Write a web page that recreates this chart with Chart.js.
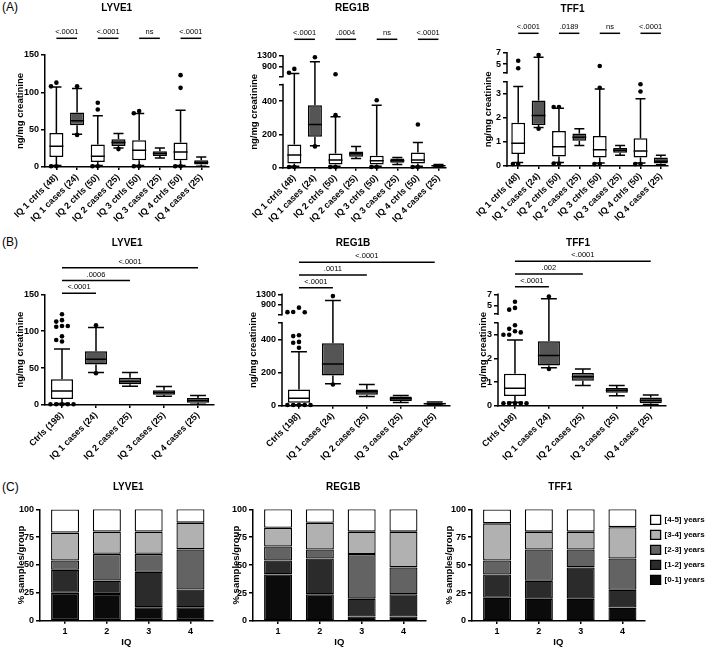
<!DOCTYPE html>
<html>
<head>
<meta charset="utf-8">
<title>LYVE1 / REG1B / TFF1</title>
<script src="https://cdn.jsdelivr.net/npm/chart.js@4.4.1/dist/chart.umd.min.js"></script>
<style>
  html, body { margin: 0; padding: 0; background: #fff; }
  #fig { position: relative; width: 709px; height: 650px; overflow: hidden; font-family: "Liberation Sans", Arial, sans-serif; }
  #fig canvas { position: absolute; }
  .tag { position: absolute; left: 2px; font-size: 12px; line-height: 14px; color: #000; }
</style>
</head>
<body>
<div id="fig">
  <div class="tag" style="top:0px">(A)</div>
  <div class="tag" style="top:235px">(B)</div>
  <div class="tag" style="top:480px">(C)</div>
</div>
<script>
// ---------- data ----------
const groupsA = ['IQ 1 ctrls (48)', 'IQ 1 cases (24)', 'IQ 2 ctrls (50)', 'IQ 2 cases (25)',
                 'IQ 3 ctrls (50)', 'IQ 3 cases (25)', 'IQ 4 ctrls (50)', 'IQ 4 cases (25)'];
const groupsB = ['Ctrls (198)', 'IQ 1 cases (24)', 'IQ 2 cases (25)', 'IQ 3 cases (25)', 'IQ 4 cases (25)'];
const iqGroups = ['1', '2', '3', '4'];
const yearBands = ['[0-1] years', '[1-2] years', '[2-3] years', '[3-4] years', '[4-5] years'];

const lyveTicks = [0, 50, 100, 150];
const regTicks = [0, 200, 400, 900, 1300];
const tffTicks = [0, 1, 2, 3, 5, 7];
const pctTicks = [0, 25, 50, 75, 100];

// (A) by IQ, ctrls vs cases
const lyveA_lo  = [2, 44, 2, 25.5, 2, 12, 2, 1];
const lyveA_q1  = [13.4, 56, 6.7, 28.2, 9, 14.8, 9, 3.2];
const lyveA_med = [27.8, 61.8, 14.4, 32.7, 22.4, 18, 20.2, 5.9];
const lyveA_q3  = [45.6, 73, 30, 37, 35.8, 21, 32.7, 9];
const lyveA_hi  = [107, 105, 68.5, 44.8, 71.6, 25.5, 76, 13.4];
const lyveA_out = [[113, 108, 1, 1], [108, 43], [86, 77, 1, 1], [24], [75, 72, 1, 1], [], [123, 106, 1, 1], []];

const regA_lo  = [8, 132, 8, 56, 8, 20, 8, 4];
const regA_q1  = [26, 186, 20, 66, 20, 30, 26, 8];
const regA_med = [76, 260, 46, 84, 42, 42, 46, 12];
const regA_q3  = [140, 376, 86, 98, 72, 56, 92, 16];
const regA_hi  = [620, 1080, 306, 128, 376, 62, 152, 20];
const regA_out = [[800, 650, 4, 4], [1250, 128], [593, 316, 4, 4], [], [406, 4, 4], [], [260, 4, 4], []];

const tffA_lo  = [0.15, 1.6, 0.15, 0.85, 0.12, 0.45, 0.12, 0.05];
const tffA_q1  = [0.5, 1.7, 0.4, 1.05, 0.35, 0.55, 0.35, 0.1];
const tffA_med = [0.95, 2.1, 0.8, 1.2, 0.68, 0.65, 0.62, 0.2];
const tffA_q3  = [1.8, 2.72, 1.45, 1.35, 1.25, 0.75, 1.15, 0.35];
const tffA_hi  = [3.3, 6.2, 2.4, 1.55, 3.2, 0.85, 2.8, 0.45];
const tffA_out = [[5.6, 4.3, 0.08, 0.08], [6.6, 1.55], [2.45, 2.45, 0.1, 0.1], [], [4.7, 3.25, 0.08, 0.08], [], [3.4, 3.1, 0.08, 0.08], []];

// (B) all controls vs cases per IQ
const lyveB_lo  = [2, 44, 25.5, 12, 1];
const lyveB_q1  = [8, 55, 28, 14, 3];
const lyveB_med = [19, 62, 32, 17, 6];
const lyveB_q3  = [35, 73, 37, 20, 9.5];
const lyveB_hi  = [76, 105, 44, 25, 13];
const lyveB_out = [[123, 115, 113, 107, 107, 106, 93, 88, 86, 1, 1, 1, 1, 1], [108, 43], [], [], []];

const regB_lo  = [5, 132, 56, 20, 4];
const regB_q1  = [18, 182, 66, 28, 8];
const regB_med = [45, 252, 84, 42, 12];
const regB_q3  = [98, 376, 98, 56, 18];
const regB_hi  = [325, 1060, 128, 62, 22];
const regB_out = [[780, 610, 600, 605, 425, 420, 385, 380, 350, 4, 4, 4, 4, 4], [1230, 128], [], [], []];

const tffB_lo  = [0.15, 1.6, 0.85, 0.42, 0.05];
const tffB_q1  = [0.41, 1.7, 1.05, 0.55, 0.1];
const tffB_med = [0.74, 2.12, 1.22, 0.65, 0.22];
const tffB_q3  = [1.35, 2.72, 1.38, 0.75, 0.35];
const tffB_hi  = [2.78, 6.2, 1.55, 0.85, 0.45];
const tffB_out = [[5.7, 4.6, 4.3, 3.4, 3.25, 3.15, 3.1, 3.0, 3.0, 0.1, 0.1, 0.1, 0.1, 0.1], [6.6, 1.55], [], [], []];

// significance brackets: [from group, to group, label]
const sigA_lyve = [[0, 1, '<.0001'], [2, 3, '<.0001'], [4, 5, 'ns'], [6, 7, '<.0001']];
const sigA_reg  = [[0, 1, '<.0001'], [2, 3, '.0004'], [4, 5, 'ns'], [6, 7, '<.0001']];
const sigA_tff  = [[0, 1, '<.0001'], [2, 3, '.0189'], [4, 5, 'ns'], [6, 7, '<.0001']];
const sigB_lyve = [[0, 1, '<.0001'], [0, 2, '.0006'], [0, 4, '<.0001']];
const sigB_reg  = [[0, 1, '<.0001'], [0, 2, '.0011'], [0, 4, '<.0001']];
const sigB_tff  = [[0, 1, '<.0001'], [0, 2, '.002'], [0, 4, '<.0001']];

// (C) % samples per time-to-diagnosis band, IQ 1..4
const lyveC_y01 = [25, 24, 12, 12];
const lyveC_y12 = [20.8, 12, 32, 16];
const lyveC_y23 = [8.3, 24, 16, 36];
const lyveC_y34 = [25, 20, 20, 24];
const lyveC_y45 = [20.8, 20, 20, 12];

const regC_y01 = [41.7, 24, 4, 4];
const regC_y12 = [12.5, 32, 16, 20];
const regC_y23 = [12.5, 8, 40, 24];
const regC_y34 = [16.7, 24, 20, 32];
const regC_y45 = [16.7, 12, 20, 20];

const tffC_y01 = [20.8, 20, 20, 12];
const tffC_y12 = [20.8, 16, 28, 16];
const tffC_y23 = [12.5, 28, 16, 28];
const tffC_y34 = [33.3, 16, 16, 28];
const tffC_y45 = [12.5, 20, 20, 16];

// broken y axes
const regBreak = {at: 500, gap: 48, squeeze: 0.155};
const tffBreak = {at: 3.5, gap: 0.37, squeeze: 0.24};

// ---------- chart setup ----------
const FONT = '"Liberation Sans", Arial, Helvetica, sans-serif';
Chart.defaults.font.family = FONT;
Chart.defaults.font.weight = 'bold';
Chart.defaults.font.size = 9;
Chart.defaults.color = '#000';
Chart.defaults.animation = false;
Chart.defaults.events = [];
Chart.defaults.plugins.legend.display = false;
Chart.defaults.plugins.tooltip.enabled = false;

const darkBox = '#555555';
const bandFills = ['#0b0b0b', '#2b2b2b', '#636363', '#b1b1b1', '#ffffff'];

function splitValue(v, brk) {
  if (!brk || v <= brk.at) return v;
  return brk.at + brk.gap + (v - brk.at) * brk.squeeze;
}

// linear axis with an optional gap (GraphPad style two-segment axis)
class SplitLinearScale extends Chart.LinearScale {
  static id = 'splitLinear';
  static defaults = {};
  buildTicks() {
    const vals = this.options.tickValues;
    const brk = this.options.split;
    if (!brk) return vals.map(v => ({value: v}));
    const lower = vals.filter(v => v < brk.at).map(v => ({value: v}));
    const upper = vals.filter(v => v > brk.at).map(v => ({value: v}));
    return [...lower, {value: brk.at, blank: true}, {value: brk.at + 1e-9, blank: true}, ...upper];
  }
  configure() {
    super.configure();
    this._startValue = splitValue(this.min, this.options.split);
    this._endValue = splitValue(this.max, this.options.split);
    this._valueRange = this._endValue - this._startValue;
  }
  getPixelForValue(v) {
    if (v === null || v === undefined) return NaN;
    return this.getPixelForDecimal((splitValue(v, this.options.split) - this._startValue) / this._valueRange);
  }
}

const axisBreak = {
  id: 'axisBreak',
  beforeDatasetsDraw(chart) {
    const y = chart.scales.y;
    const brk = y.options.split;
    if (!brk) return;
    const ctx = chart.ctx, x0 = chart.chartArea.left;
    ctx.save();
    ctx.strokeStyle = '#000';
    ctx.lineWidth = 1.5;
    ctx.beginPath();
    ctx.moveTo(x0, y.getPixelForValue(y.min) + 0.75);
    ctx.lineTo(x0, y.getPixelForValue(brk.at) - 0.75);
    ctx.moveTo(x0, y.getPixelForValue(brk.at + 1e-9) + 0.75);
    ctx.lineTo(x0, y.getPixelForValue(y.max) - 0.75);
    ctx.stroke();
    ctx.restore();
  }
};

const whiskers = {
  id: 'whiskers',
  afterDatasetsDraw(chart) {
    const st = chart.data.datasets[0].stats;
    if (!st) return;
    const y = chart.scales.y, ctx = chart.ctx;
    ctx.save();
    ctx.strokeStyle = '#000';
    ctx.lineWidth = 1.5;
    chart.getDatasetMeta(0).data.forEach((bar, i) => {
      const half = bar.width / 2, cap = half * 0.72;
      const pLo = y.getPixelForValue(st.lo[i]), pHi = y.getPixelForValue(st.hi[i]);
      const pQ1 = y.getPixelForValue(st.q1[i]), pQ3 = y.getPixelForValue(st.q3[i]);
      const pMed = y.getPixelForValue(st.med[i]);
      ctx.beginPath();
      ctx.moveTo(bar.x, pQ3); ctx.lineTo(bar.x, pHi);
      ctx.moveTo(bar.x - cap, pHi); ctx.lineTo(bar.x + cap, pHi);
      ctx.moveTo(bar.x, pQ1); ctx.lineTo(bar.x, pLo);
      ctx.moveTo(bar.x - cap, pLo); ctx.lineTo(bar.x + cap, pLo);
      ctx.moveTo(bar.x - half, pMed); ctx.lineTo(bar.x + half, pMed);
      ctx.stroke();
    });
    ctx.restore();
  }
};

const sigBars = {
  id: 'sigBars',
  afterDraw(chart, args, o) {
    if (!o.pairs) return;
    const x = chart.scales.x, ctx = chart.ctx, top = chart.chartArea.top;
    ctx.save();
    ctx.strokeStyle = '#000';
    ctx.fillStyle = '#000';
    ctx.lineWidth = 1.5;
    ctx.font = 'normal 7.5px ' + FONT;
    ctx.textAlign = 'center';
    ctx.textBaseline = 'middle';
    o.pairs.forEach(([a, b, txt], k) => {
      const yy = top - o.base - k * o.step;
      const x1 = x.getPixelForValue(a), x2 = x.getPixelForValue(b);
      ctx.beginPath();
      ctx.moveTo(x1, yy); ctx.lineTo(x2, yy);
      ctx.stroke();
      ctx.fillText(txt, (x1 + x2) / 2, yy - 6);
    });
    ctx.restore();
  }
};

const heading = {
  id: 'heading',
  afterDraw(chart, args, o) {
    if (!o.text) return;
    const a = chart.chartArea, ctx = chart.ctx;
    ctx.save();
    ctx.fillStyle = '#000';
    ctx.font = 'bold 10px ' + FONT;
    ctx.textAlign = 'center';
    ctx.textBaseline = 'middle';
    ctx.fillText(o.text, (a.left + a.right) / 2 + o.dx, a.top - o.rise);
    ctx.restore();
  }
};

Chart.register(SplitLinearScale, axisBreak, whiskers, sigBars, heading);

// ---------- layout ----------
const fig = document.getElementById('fig');
// third column runs past the page edge so the legend (with its empty right margin) fits
const cols = [{x: 0, w: 235}, {x: 222, w: 248}, {x: 440, w: 295}];
const rows = [{y: 0, h: 225}, {y: 215, h: 252}, {y: 455, h: 195}];
const Y_TITLE_HALF = 5.7; // half line height of the 9.5px axis title

const rowA = {row: 0, xMin: -0.55, xMax: 7.35, barPct: 0.68, spread: 0.26, sigStep: 0};
const rowB = {row: 1, xMin: -0.5, xMax: 4.45, barPct: 0.65, spread: 0.17, sigStep: 12.7};
const rowC = {row: 2, xMin: -0.6, xMax: 3.53, barPct: 0.67};

const geo = {
  a1: {...rowA, col: 0, top: 55, bottom: 167, left: 45, right: 208.5, titleX: 20, headDx: -10, headRise: 46.5, sigBase: 16.7},
  a2: {...rowA, col: 1, top: 56, bottom: 167.7, left: 283, right: 445.7, titleX: 254, headDx: -12, headRise: 47.7, sigBase: 16.7},
  a3: {...rowA, col: 2, top: 52.7, bottom: 166, left: 507, right: 668, titleX: 488, headDx: -15, headRise: 43.4, sigBase: 19.4},
  b1: {...rowB, col: 0, top: 294.3, bottom: 405, left: 45, right: 213.3, titleX: 20, headDx: -2, headRise: 50.8, sigBase: 1, sigStep: 12.8},
  b2: {...rowB, col: 1, top: 294.3, bottom: 405.7, left: 282, right: 450, titleX: 253, headDx: -13, headRise: 50.8, sigBase: 6.6},
  b3: {...rowB, col: 2, top: 294.3, bottom: 405.7, left: 498, right: 666, titleX: 483, headDx: -4, headRise: 50.8, sigBase: 7.6},
  c1: {...rowC, col: 0, top: 509.3, bottom: 620.7, left: 40, right: 212.6, titleX: 21, headDx: 2, headRise: 21.8},
  c2: {...rowC, col: 1, top: 509.3, bottom: 621, left: 253, right: 425.6, titleX: 236, headDx: 4, headRise: 21.8},
  c3: {...rowC, col: 2, top: 509.3, bottom: 621, left: 472, right: 644.6, titleX: 449, headDx: 2, headRise: 21.8}
};

function makeCanvas(g) {
  const col = cols[g.col], row = rows[g.row];
  const c = document.createElement('canvas');
  c.width = col.w;
  c.height = row.h;
  c.style.left = col.x + 'px';
  c.style.top = row.y + 'px';
  fig.appendChild(c);
  return c;
}

function frame(g) {
  const col = cols[g.col], row = rows[g.row];
  const padLeft = g.titleX - col.x - Y_TITLE_HALF;
  return {
    padding: {left: padLeft, right: col.x + col.w - g.right, top: g.top - row.y, bottom: 0},
    yWidth: g.left - col.x - padLeft,
    xHeight: row.y + row.h - g.bottom
  };
}

const tickMarks = len => ({drawOnChartArea: false, drawTicks: true, tickLength: len, color: '#000', lineWidth: 1.5, offset: false});
const axisLine = {color: '#000', width: 1.5};

function indexAxis(g, f, labels, rotation, fontSize) {
  return {
    type: 'linear', min: g.xMin, max: g.xMax, offset: false, bounds: 'data',
    afterBuildTicks: s => { s.ticks = labels.map((_, i) => ({value: i})); },
    ticks: {autoSkip: false, minRotation: rotation, maxRotation: rotation, padding: 2,
            font: {size: fontSize}, callback: v => labels[v]},
    grid: tickMarks(3),
    border: axisLine,
    afterFit: s => { s.height = f.xHeight; }
  };
}

// spread outliers sideways when they would overlap (simple beeswarm)
function swarm(outliers, brk, range, spread) {
  const tol = range * 0.045;
  const slots = [0, -1, 1, -2, 2, -3, 3];
  const pts = [];
  outliers.forEach((list, i) => {
    const taken = [];
    list.forEach(v => {
      const iv = splitValue(v, brk);
      const slot = slots.find(sl => taken.every(t => t.sl !== sl || Math.abs(t.iv - iv) >= tol));
      taken.push({sl: slot, iv});
      pts.push({x: i + slot * spread, y: v});
    });
  });
  return pts;
}

function boxPlot(g, name, groups, st, yTicks, brk, sig) {
  const f = frame(g);
  const top = yTicks[yTicks.length - 1];
  const range = splitValue(top, brk);
  return new Chart(makeCanvas(g), {
    type: 'bar',
    data: {
      datasets: [{
        type: 'bar',
        data: st.q1.map((v, i) => ({x: i, y: [v, st.q3[i]]})),
        stats: st,
        backgroundColor: groups.map(n => n.includes('cases') ? darkBox : '#ffffff'),
        borderColor: '#000',
        borderWidth: 1.5,
        borderSkipped: false,
        barPercentage: g.barPct,
        categoryPercentage: 1
      }, {
        type: 'scatter',
        data: swarm(st.out, brk, range, g.spread),
        pointRadius: 2.3,
        backgroundColor: '#000',
        borderWidth: 0,
        clip: false
      }]
    },
    options: {
      responsive: false,
      layout: {padding: f.padding},
      scales: {
        x: indexAxis(g, f, groups, 45, 9),
        y: {
          type: 'splitLinear', min: 0, max: top, tickValues: yTicks, split: brk,
          grid: tickMarks(4),
          border: {display: !brk, color: '#000', width: 1.5},
          ticks: {padding: 2, callback: (v, i, t) => t[i].blank ? '' : String(v)},
          title: {display: true, text: 'ng/mg creatinine', font: {size: 9.5}, padding: 0},
          afterFit: s => { s.width = f.yWidth; }
        }
      },
      plugins: {
        heading: {text: name, dx: g.headDx, rise: g.headRise},
        sigBars: {pairs: sig, base: g.sigBase, step: g.sigStep}
      }
    }
  });
}

function stackPlot(g, name, series, withLegend) {
  const f = frame(g);
  const cfg = {
    type: 'bar',
    data: {
      datasets: yearBands.map((band, k) => ({
        label: band,
        data: series[k].map((v, i) => ({x: i, y: v})),
        backgroundColor: bandFills[k],
        borderColor: '#000',
        borderWidth: 1.3,
        borderSkipped: false,
        barPercentage: g.barPct,
        categoryPercentage: 1
      }))
    },
    options: {
      responsive: false,
      layout: {padding: f.padding},
      scales: {
        x: {...indexAxis(g, f, iqGroups, 0, 9), stacked: true,
            title: {display: true, text: 'IQ', font: {size: 9.5}, padding: {top: 0, bottom: 2}}},
        y: {
          type: 'linear', stacked: true, min: 0, max: 100,
          afterBuildTicks: s => { s.ticks = pctTicks.map(v => ({value: v})); },
          grid: tickMarks(4),
          border: axisLine,
          ticks: {padding: 2, callback: v => String(v)},
          title: {display: true, text: '% samples/group', font: {size: 9.5}, padding: 0},
          afterFit: s => { s.width = f.yWidth; }
        }
      },
      plugins: {
        heading: {text: name, dx: g.headDx, rise: g.headRise},
        legend: withLegend ? {
          display: true, position: 'right', align: 'start', reverse: true, maxWidth: 120,
          labels: {boxWidth: 10, boxHeight: 9, padding: 6, color: '#000', font: {size: 8}}
        } : {display: false}
      }
    }
  };
  const chart = new Chart(makeCanvas(g), cfg);
  if (withLegend) {
    cfg.options.layout.padding.right = Math.max(0, f.padding.right - chart.legend.width);
    chart.update();
  }
  return chart;
}

// ---------- panels ----------
boxPlot(geo.a1, 'LYVE1', groupsA,
  {lo: lyveA_lo, q1: lyveA_q1, med: lyveA_med, q3: lyveA_q3, hi: lyveA_hi, out: lyveA_out}, lyveTicks, null, sigA_lyve);
boxPlot(geo.a2, 'REG1B', groupsA,
  {lo: regA_lo, q1: regA_q1, med: regA_med, q3: regA_q3, hi: regA_hi, out: regA_out}, regTicks, regBreak, sigA_reg);
boxPlot(geo.a3, 'TFF1', groupsA,
  {lo: tffA_lo, q1: tffA_q1, med: tffA_med, q3: tffA_q3, hi: tffA_hi, out: tffA_out}, tffTicks, tffBreak, sigA_tff);

boxPlot(geo.b1, 'LYVE1', groupsB,
  {lo: lyveB_lo, q1: lyveB_q1, med: lyveB_med, q3: lyveB_q3, hi: lyveB_hi, out: lyveB_out}, lyveTicks, null, sigB_lyve);
boxPlot(geo.b2, 'REG1B', groupsB,
  {lo: regB_lo, q1: regB_q1, med: regB_med, q3: regB_q3, hi: regB_hi, out: regB_out}, regTicks, regBreak, sigB_reg);
boxPlot(geo.b3, 'TFF1', groupsB,
  {lo: tffB_lo, q1: tffB_q1, med: tffB_med, q3: tffB_q3, hi: tffB_hi, out: tffB_out}, tffTicks, tffBreak, sigB_tff);

stackPlot(geo.c1, 'LYVE1', [lyveC_y01, lyveC_y12, lyveC_y23, lyveC_y34, lyveC_y45], false);
stackPlot(geo.c2, 'REG1B', [regC_y01, regC_y12, regC_y23, regC_y34, regC_y45], false);
stackPlot(geo.c3, 'TFF1', [tffC_y01, tffC_y12, tffC_y23, tffC_y34, tffC_y45], true);
</script>
</body>
</html>
